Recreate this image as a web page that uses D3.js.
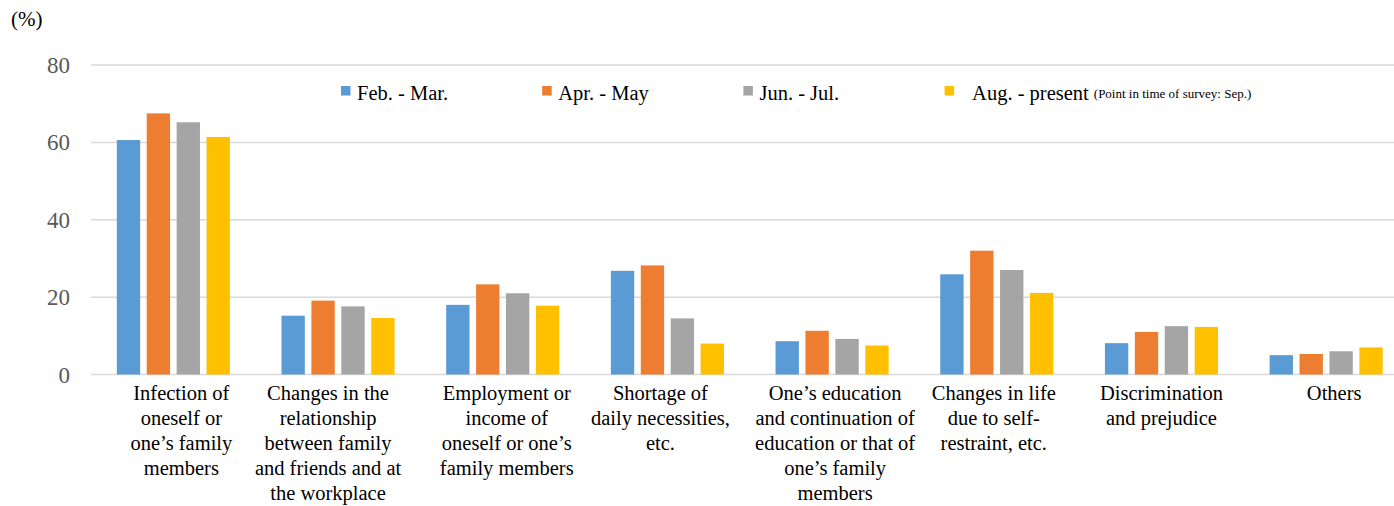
<!DOCTYPE html>
<html>
<head>
<meta charset="utf-8">
<script src="https://cdn.jsdelivr.net/npm/d3@7"></script>
<style>
  body { margin: 0; background: #fff; }
  svg { display: block; }
  svg text { font-family: "Times New Roman", "Liberation Serif", serif; }
</style>
</head>
<body>
<div id="chart"></div>
<script>
// Categories (line breaks as in the original labels)
var categories = [
    "Infection of\noneself or\none\u2019s family\nmembers",
    "Changes in the\nrelationship\nbetween family\nand friends and at\nthe workplace",
    "Employment or\nincome of\noneself or one\u2019s\nfamily members",
    "Shortage of\ndaily necessities,\netc.",
    "One\u2019s education\nand continuation of\neducation or that of\none\u2019s family\nmembers",
    "Changes in life\ndue to self-\nrestraint, etc.",
    "Discrimination\nand prejudice",
    "Others"
];

var seriesNames = ["Feb. - Mar.", "Apr. - May", "Jun. - Jul.", "Aug. - present"];

var febMar   = [60.6, 15.2, 18.0, 26.8, 8.6, 25.9, 8.1, 5.0];
var aprMay   = [67.5, 19.1, 23.3, 28.2, 11.3, 32.0, 11.0, 5.3];
var junJul   = [65.2, 17.6, 21.0, 14.5, 9.2, 27.0, 12.5, 6.0];
var augPres  = [61.4, 14.6, 17.8, 8.0, 7.5, 21.1, 12.3, 7.0];

var yTicks = [0, 20, 40, 60, 80];

var colors = ["#5B9BD5", "#ED7D31", "#A5A5A5", "#FFC000"];

// small horizontal nudges of the category labels (Excel wraps them off-centre)
var labelShift = [8, -10, 4, -7, 3, -3, 0, 8];

var width = 1394;
var height = 506;

var svg = d3.select("#chart")
    .append("svg")
    .attr("width", width)
    .attr("height", height);

var series = [febMar, aprMay, junJul, augPres];

var x0 = d3.scaleBand()
    .domain(d3.range(categories.length))
    .range([91, 1408.5])
    .padding(0);

var x1 = d3.scaleBand()
    .domain(d3.range(series.length))
    .range([25.8, x0.bandwidth() - 25.8])
    .paddingInner(0.22)
    .paddingOuter(0);

var y = d3.scaleLinear()
    .domain([0, 80])
    .range([374.5, 65]);

// gridlines
svg.append("g")
    .selectAll("line")
    .data(yTicks)
    .enter()
    .append("line")
    .attr("x1", 91)
    .attr("x2", width)
    .attr("y1", function (d) { return y(d); })
    .attr("y2", function (d) { return y(d); })
    .attr("stroke", "#D9D9D9")
    .attr("stroke-width", 1.5);

// y axis labels
var yAxis = svg.append("g")
    .attr("transform", "translate(70,0)")
    .call(d3.axisLeft(y).tickValues(yTicks).tickSize(0).tickPadding(0))
    .attr("font-family", null)
    .attr("font-size", 23);
yAxis.select(".domain").remove();
yAxis.selectAll("text")
    .attr("fill", "#595959")
    .attr("dy", "0.33em");

svg.append("text")
    .attr("x", 11)
    .attr("y", 26)
    .attr("font-size", 21)
    .attr("fill", "#000")
    .text("(%)");

// bars
var groups = svg.selectAll("g.cat")
    .data(categories)
    .enter()
    .append("g")
    .attr("class", "cat")
    .attr("transform", function (d, i) { return "translate(" + x0(i) + ",0)"; });

groups.selectAll("rect")
    .data(function (d, i) { return series.map(function (s, k) { return { k: k, v: s[i] }; }); })
    .enter()
    .append("rect")
    .attr("x", function (d) { return x1(d.k); })
    .attr("y", function (d) { return y(d.v); })
    .attr("width", x1.bandwidth())
    .attr("height", function (d) { return y(0) - y(d.v); })
    .attr("fill", function (d) { return colors[d.k]; });

// category labels
groups.append("text")
    .attr("text-anchor", "middle")
    .attr("fill", "#000")
    .attr("font-size", 20.5)
    .attr("transform", function (d, i) { return "translate(" + (x0.bandwidth() / 2 + labelShift[i]) + ",399.5)"; })
    .selectAll("tspan")
    .data(function (d) { return d.split("\n"); })
    .enter()
    .append("tspan")
    .attr("x", 0)
    .attr("y", function (d, j) { return j * 25.2; })
    .text(function (d) { return d; });

// legend
var legend = svg.append("g");
var items = legend.selectAll("g")
    .data(seriesNames)
    .enter()
    .append("g")
    .attr("transform", function (d, i) { return "translate(" + (341 + i * 201.2) + ",86)"; });

items.append("rect")
    .attr("width", 9.5)
    .attr("height", 9.5)
    .attr("fill", function (d, i) { return colors[i]; });

var labels = items.append("text")
    .attr("x", function (d, i) { return i === 3 ? 27.5 : 16; })
    .attr("y", 13.5)
    .attr("font-size", 20.5)
    .attr("fill", "#000")
    .text(function (d) { return d; });

// survey note follows the last legend entry
var lastX = 341 + 3 * 201.2 + 27.5 + labels.nodes()[3].getComputedTextLength();
legend.append("text")
    .attr("x", Math.max(1091, lastX + 5))
    .attr("y", 97.5)
    .attr("font-size", 13)
    .attr("fill", "#000")
    .text("(Point in time of survey: Sep.)");
</script>
</body>
</html>
